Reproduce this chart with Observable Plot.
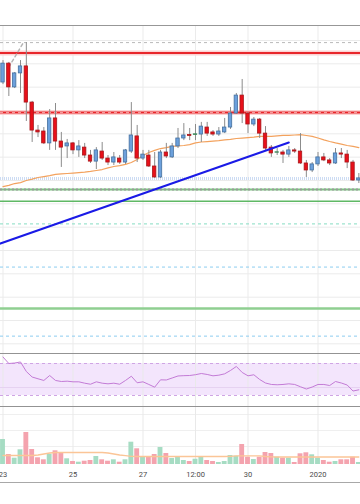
<!DOCTYPE html>
<html><head><meta charset="utf-8">
<script src="https://cdn.jsdelivr.net/npm/d3@7"></script>
<script src="https://cdn.jsdelivr.net/npm/@observablehq/plot@0.6"></script>
<style>
html,body{margin:0;padding:0;background:#fff;}
#chart{width:360px;height:504px;overflow:hidden;position:relative;background:#fff;}
#chart svg{display:block;overflow:hidden;}
#vol{border-bottom:1px solid #a8a8a8;}
</style></head>
<body><div id="chart"><div id="main"></div><div id="rsi"></div><div id="vol"></div></div>
<script>
// ---- data (4-hour candles, 23 Dec 2019 -> 2 Jan 2020) ----
const openP  = [7520,7601,7499,7559,7589,7434,7314,7310,7259,7366, 7267,7246,7259,7229,7241,7207,7181,7224,7194,7177, 7194,7177,7224,7289,7194,7207,7160,7113,7220,7199, 7246,7280,7295,7295,7297,7327,7306,7297,7306,7327, 7387,7464,7387,7340,7361,7301,7241,7219,7220,7211, 7229,7224,7173,7143,7169,7199,7186,7173,7216,7211, 7177,7100];
const highP  = [7614,7606,7563,7614,7691,7439,7336,7327,7404,7430, 7306,7276,7263,7271,7259,7229,7241,7263,7207,7220, 7207,7233,7434,7336,7229,7229,7220,7229,7259,7259, 7323,7344,7323,7340,7349,7349,7314,7327,7366,7413, 7473,7533,7391,7370,7366,7331,7250,7237,7229,7246, 7237,7301,7186,7177,7220,7216,7194,7237,7237,7229, 7186,7130];
const lowP   = [7511,7460,7494,7473,7353,7263,7284,7254,7229,7229, 7156,7194,7211,7199,7194,7173,7147,7186,7164,7164, 7169,7169,7216,7177,7186,7156,7109,7109,7194,7194, 7237,7271,7271,7271,7263,7289,7289,7289,7301,7319, 7383,7344,7301,7331,7280,7229,7199,7207,7173,7199, 7216,7169,7113,7134,7160,7181,7164,7169,7194,7151, 7096,7087];
const closeP = [7601,7499,7559,7589,7434,7314,7306,7259,7366,7267, 7241,7259,7229,7246,7207,7181,7229,7194,7177,7199, 7177,7229,7293,7194,7211,7160,7113,7220,7203,7246, 7280,7293,7291,7298,7331,7301,7297,7310,7327,7387, 7464,7387,7340,7361,7301,7237,7216,7221,7211,7229, 7224,7173,7143,7169,7199,7186,7173,7216,7211,7177, 7100,7109];
const maP    = [7074,7079,7087,7091,7100,7106,7113,7117,7121,7126, 7128,7130,7132,7134,7136,7139,7143,7147,7154,7160, 7164,7169,7177,7190,7207,7220,7229,7237,7241,7246, 7248,7250,7254,7261,7265,7267,7269,7271,7274,7276, 7280,7282,7284,7286,7289,7289,7289,7291,7293,7293, 7295,7297,7293,7289,7282,7274,7267,7261,7256,7250, 7246,7241];
const rsiV   = [78.1,70,70.6,71.9,60,53.1,50.9,48.8,55,48.8, 47.5,47.9,47.1,47.1,45.4,44.1,47.1,45.4,44.6,45.4, 44.1,48.8,54.1,45.9,47.1,43.8,40.4,49.6,49.4,51.9, 54.4,54.8,55,56,57.5,56.3,54.6,55.4,57.1,61.3, 66.3,58.8,54.6,55.9,50,45.6,43.8,43.4,43.8,44.6, 43.8,40.9,38.1,40.6,43.8,43.8,42.5,47.5,45.6,43.1, 35.6,37.1];
const volV   = [250,100,63,147,320,150,67,47,103,137, 117,57,30,23,33,40,80,47,33,47, 23,47,223,157,73,73,100,170,110,60, 73,40,30,53,80,40,30,20,30,90, 83,200,73,50,73,120,110,73,63,63, 20,107,117,97,63,40,23,30,47,47, 73,20];
const volMa  = [90,90,90,90,90,90,95,105,115,120, 120,120,120,120,120,120,120,120,115,105, 95,88,82,80,80,80,80,80,80,80, 80,80,80,80,80,80,80,80,80,82, 87,87,87,87,87,80,76,75,75,75, 75,75,75,75,75,75,75,75,75,75, 75,75];

const tickDates  = ["2019-12-23T00:00Z","2019-12-25T00:00Z","2019-12-27T00:00Z","2019-12-28T12:00Z","2019-12-30T00:00Z","2020-01-01T00:00Z"];
const tickLabels = ["23","25","27","12:00","30","2020"];
const priceGrid  = [7700,7600,7500,7400,7300,7200,7100,7000,6900,6800,6700,6600,6500,6400];

const redLevels       = [7646, 7391];
const grayDashLevel   = [7691];
const blueDotLevel    = [7109];
const grayGreenLevel  = [7061];
const greenLevels     = [7011, 6551];
const tealDashLevel   = [6914];
const blueDashLevels  = [6729, 6433];
const trendDates  = ["2019-12-22T20:00Z","2019-12-31T04:00Z"];
const trendPrices = [6825, 7263];
const smallDates  = ["2019-12-23T04:00Z","2019-12-23T14:00Z"];
const smallPrices = [7586, 7691];
const rsiBandLevels = [30, 70];
const rsiMid = [40];

// ---- build tables ----
const times = d3.utcHour.every(4).range(new Date(Date.UTC(2019,11,23)), new Date(Date.UTC(2020,0,2,8)));
const candles = times.map((t,i)=>({t, open:openP[i], high:highP[i], low:lowP[i], close:closeP[i], ma:maP[i], rsi:rsiV[i], vol:volV[i], vma:volMa[i]}));
const ticks = tickDates.map((d,i)=>({t:new Date(d), label:tickLabels[i]}));
const trend = trendDates.map((d,i)=>({t:new Date(d), p:trendPrices[i]}));
const small = smallDates.map((d,i)=>({t:new Date(d), p:smallPrices[i]}));

const xDomain = [new Date(Date.UTC(2019,11,22,22,17)), new Date(Date.UTC(2020,0,2,5,8))];
const xOpt = {type:"utc", domain:xDomain, axis:null};
const font = "Roboto, 'DejaVu Sans', sans-serif";
const MIN = 60000;
const bodyHalf = 70*MIN, volHalf = 100*MIN;
const isUp = d => d.close >= d.open;
const isDoji = d => Math.abs(d.close - d.open) < 4;
const bodyFill = d => isUp(d) ? (isDoji(d) ? "#3f8a5c" : "#6ca0dc") : (isDoji(d) ? "#8a1c1c" : "#e8101a");
const bodyStroke = d => isUp(d) ? (isDoji(d) ? "#3f8a5c" : "#44709f") : (isDoji(d) ? "#8a1c1c" : "#a8161a");

const priceTop = 7764.3, priceBottom = 6358.6;

const main = Plot.plot({
  width:360, height:353, marginTop:25, marginBottom:0, marginLeft:0, marginRight:0,
  style:{fontFamily:font, background:"#fff"},
  x:xOpt, y:{domain:[priceBottom, priceTop], axis:null},
  marks:[
    Plot.ruleY(priceGrid, {stroke:"#ebebeb"}),
    Plot.ruleX(ticks, {x:"t", stroke:"#ebebeb"}),
    Plot.ruleY([priceTop], {stroke:"#979797"}),
    Plot.ruleY(grayDashLevel, {stroke:"#b9b9b9", strokeDasharray:"3,3"}),
    Plot.ruleY(redLevels, {stroke:"#fbd3d3", strokeWidth:5}),
    Plot.ruleY(redLevels, {stroke:"#e8262b", strokeWidth:2}),
    Plot.ruleY(redLevels.slice(1), {stroke:"#ffffff", strokeWidth:0.6, strokeDasharray:"3,3"}),
    Plot.ruleY(blueDotLevel, {stroke:"#cddcf3", strokeWidth:3, strokeDasharray:"1,1"}),
    Plot.ruleY(grayGreenLevel, {stroke:"#7fc483", strokeWidth:2}),
    Plot.ruleY(grayGreenLevel, {stroke:"#9a9a9a", strokeWidth:2, strokeDasharray:"2,2"}),
    Plot.ruleY(greenLevels.slice(0,1), {stroke:"#5fb865", strokeWidth:1.5}),
    Plot.ruleY(greenLevels.slice(1), {stroke:"#8fcf91", strokeWidth:2.5}),
    Plot.ruleY(tealDashLevel, {stroke:"#86dcc3", strokeDasharray:"3,3"}),
    Plot.ruleY(blueDashLevels, {stroke:"#8ccdf0", strokeDasharray:"3,3"}),
    Plot.line(small, {x:"t", y:"p", stroke:"#b5b5b5", strokeDasharray:"3,3"}),
    Plot.line(candles, {x:"t", y:"ma", stroke:"#f3a25e", strokeWidth:1.2}),
    Plot.ruleX(candles, {x:"t", y1:"low", y2:"high", stroke:"#8c8c8c", strokeWidth:1}),
    Plot.rect(candles, {x1:d=>new Date(+d.t - bodyHalf), x2:d=>new Date(+d.t + bodyHalf), y1:"open", y2:"close", fill:bodyFill, stroke:bodyStroke, strokeWidth:0.8}),
    Plot.line(trend, {x:"t", y:"p", stroke:"#1a1ae6", strokeWidth:2})
  ]
});
document.getElementById("main").append(main);

const rsiTop = 82.5, rsiBottom = 16.25;
const rsi = Plot.plot({
  width:360, height:54, marginTop:0, marginBottom:0, marginLeft:0, marginRight:0,
  style:{fontFamily:font, background:"#fff"},
  x:xOpt, y:{domain:[15, rsiTop], axis:null},
  marks:[
    Plot.rect([rsiBandLevels], {x1:()=>xDomain[0], x2:()=>xDomain[1], y1:d=>d[0], y2:d=>d[1], fill:"#f3e5fc"}),
    Plot.ruleX(ticks, {x:"t", stroke:"#e9e9e9"}),
    Plot.ruleY(rsiMid, {stroke:"#e6d2f1"}),
    Plot.ruleY(rsiBandLevels, {stroke:"#cfa5e4", strokeDasharray:"3,3"}),
    Plot.line(candles, {x:"t", y:"rsi", stroke:"#c37bd6", strokeWidth:1}),
    Plot.ruleY([rsiTop, rsiBottom], {stroke:"#939393", strokeWidth:1.2})
  ]
});
document.getElementById("rsi").append(rsi);

const volGrid = [180, 340, 500];
const vol = Plot.plot({
  width:360, height:75, marginTop:0, marginBottom:18, marginLeft:0, marginRight:0,
  style:{fontFamily:font, background:"#fff"},
  x:xOpt, y:{domain:[0, 570], axis:null},
  marks:[
    Plot.ruleY(volGrid, {stroke:"#efefef"}),
    Plot.ruleX(ticks, {x:"t", stroke:"#e9e9e9"}),
    Plot.rect(candles, {x1:d=>new Date(+d.t - volHalf), x2:d=>new Date(+d.t + volHalf), y1:0, y2:"vol", fill:d=>isUp(d) ? "#a6dcc3" : "#f4a3ae"}),
    Plot.line(candles, {x:"t", y:"vma", stroke:"#fbc597", strokeWidth:1.3}),
    Plot.text(ticks, {x:"t", text:"label", frameAnchor:"bottom", dy:12, fontSize:7.5, fill:"#4a4a4a"})
  ]
});
document.getElementById("vol").append(vol);
</script>
</body></html>
